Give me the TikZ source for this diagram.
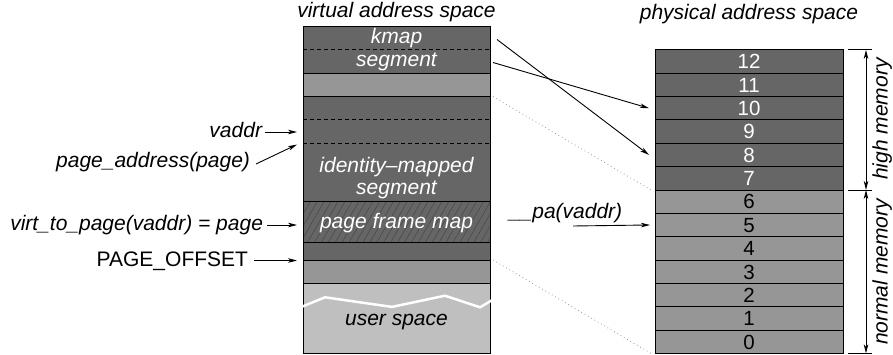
\documentclass[tikz,border=0pt]{standalone}
\usepackage{fontspec}
\setmainfont{Liberation Sans}
\usetikzlibrary{arrows.meta,patterns.meta}

\definecolor{darkfill}{gray}{0.40}
\definecolor{midfill}{gray}{0.59}
\definecolor{lightfill}{gray}{0.75}
\definecolor{hatchcol}{gray}{0.28}
\definecolor{dotcol}{gray}{0.60}

\begin{document}
\begin{tikzpicture}[x=1pt,y=-1pt,
  every node/.style={inner sep=0pt,outer sep=0pt},
  lbl/.style={font=\fontsize{21}{25}\selectfont\itshape,text height=15pt,text depth=4pt},
  upr/.style={font=\fontsize{21}{25}\selectfont,text height=15pt,text depth=4pt},
  inner/.style={lbl,text=white},
  num/.style={font=\fontsize{20.5}{24}\selectfont,text height=14.7pt,text depth=0pt},
  vblk/.style={draw=black,line width=0.8pt,minimum width=187pt,anchor=north west},
  prow/.style={draw=black,line width=0.8pt,minimum width=188pt,minimum height=23.35pt,anchor=north west,num},
  arr/.style={line width=0.9pt,-{Stealth[length=9pt,width=4.5pt,inset=2.5pt]}},
  darr/.style={line width=0.9pt,{Stealth[length=9pt,width=4.5pt,inset=2.5pt]}-{Stealth[length=9pt,width=4.5pt,inset=2.5pt]}},
  sep/.style={line width=0.8pt,dash pattern=on 4pt off 3pt},
  dotl/.style={dotcol,line width=0.8pt,dash pattern=on 0.8pt off 3pt},
]
\useasboundingbox (0,0) rectangle (893,355);

% ---- virtual address space column ----
\node[vblk,fill=darkfill,minimum height=46.7pt]   (vk)  at (303,26.5)   {};
\node[vblk,fill=midfill,minimum height=23.35pt]   (vg)  at (303,73.2)   {};
\node[vblk,fill=darkfill,minimum height=105.07pt] (vid) at (303,96.55)  {};
\node[vblk,fill=darkfill,minimum height=40.86pt]  (vpf) at (303,201.62) {};
\path[pattern={Lines[angle=60,distance=6pt,line width=0.5pt]},pattern color=hatchcol]
  (vpf.south west) rectangle (vpf.north east);
\draw[line width=0.8pt] (vpf.south west) rectangle (vpf.north east);
\node[vblk,fill=darkfill,minimum height=17.51pt]  (vpo) at (303,242.48) {};
\node[vblk,fill=midfill,minimum height=23.35pt]   (vlo) at (303,259.99) {};
\node[vblk,fill=lightfill,minimum height=70.05pt] (vus) at (303,283.34) {};

% dashed page boundaries inside the kernel segments
\draw[sep] (303,49.85) -- (490,49.85);
\draw[sep] (303,119.9) -- (490,119.9);
\draw[sep] (303,143.25) -- (490,143.25);

% broken edge of user space
\draw[white,line width=2.5pt,line join=miter]
  (301.5,306.9) -- (325,297.3) -- (392,306.9) -- (445,295.7) -- (480,307.3) -- (491.5,300.5);

% texts in the virtual column
\node[inner] (tkmap) at (396.5,38.2)  {kmap};
\node[inner] (tseg1) at (396.5,61.5)  {segment};
\node[inner] (tid)   at (396.5,167)   {identity--mapped};
\node[inner] (tseg2) at (396.5,189)   {segment};
\node[inner] (tpfm)  at (396.5,223.5) {page frame map};
\node[lbl]   (tuser) at (396.5,320)   {user space};

\node[lbl] (vtitle) at (396.5,12) {virtual address space};

% ---- physical address space column ----
\foreach \i in {0,...,12}{
  \ifnum\i>6 \def\rowfill{darkfill}\def\rowtext{white}\else \def\rowfill{midfill}\def\rowtext{black}\fi
  \node[prow,fill=\rowfill,text=\rowtext] (p\i) at (655,{353.4-(\i+1)*23.35}) {\i};
}
\node[lbl] (ptitle) at (749,14) {physical address space};

% ---- kmap mappings into high memory ----
\coordinate (ka) at (497,39.5);
\coordinate (kb) at (493,62.5);
\draw[arr] (ka) -- ([xshift=-6pt]p8.west);
\draw[arr] (kb) -- ([xshift=-6pt]p10.west);

% identity mapping of normal memory
\draw[dotl] ([xshift=3pt]vid.north east) -- ([xshift=-4pt]p6.north west);
\draw[dotl] ([xshift=3pt]vlo.north east) -- ([xshift=-4pt]p0.south west);

% ---- labels on the left ----
\node[lbl,anchor=east] (lvaddr) at (262,132) {vaddr};
\coordinate (tvaddr) at (297,132);
\draw[arr] ([xshift=3pt]lvaddr.east) -- (tvaddr);

\node[lbl,anchor=east] (lpaddr) at (250,162) {page\_address(page)};
\coordinate (tpaddr) at (297,144.5);
\draw[arr] ([xshift=6pt,yshift=-2pt]lpaddr.east) -- (tpaddr);

\node[lbl,anchor=east] (lvtp) at (263,225) {virt\_to\_page(vaddr) = page};
\coordinate (tvtp) at (297,225);
\draw[arr] ([xshift=4pt]lvtp.east) -- (tvtp);

\node[upr,anchor=east] (lpo) at (248,260.5) {PAGE\_OFFSET};
\coordinate (tpo) at (297,260.5);
\draw[arr] ([xshift=6pt]lpo.east) -- (tpo);

% __pa(vaddr)
\node[lbl,anchor=west] (lpa) at (509,213) {\_\_pa(vaddr)};
\coordinate (spa) at (573,226);
\draw[arr] (spa) -- ([xshift=-5pt]p5.west);

% ---- memory zone brackets ----
\foreach \a in {p12.north east, p7.south east, p0.south east}{
  \draw[line width=0.8pt] ([xshift=5pt]\a) -- ([xshift=29pt]\a);
}
\draw[darr] ([xshift=23pt]p12.north east) -- ([xshift=23pt]p7.south east);
\draw[darr] ([xshift=23pt]p6.north east) -- ([xshift=23pt]p0.south east);
\node[lbl,rotate=90] (lhigh) at (882,119) {high memory};
\node[lbl,rotate=90] (lnorm) at (882,272) {normal memory};
\end{tikzpicture}
\end{document}
